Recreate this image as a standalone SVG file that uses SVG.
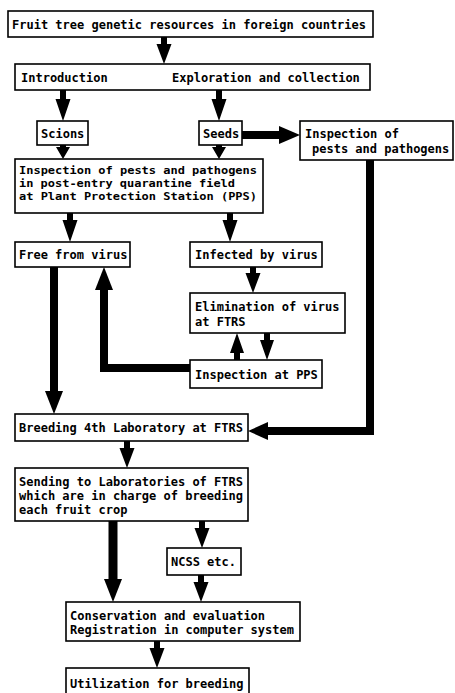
<svg xmlns="http://www.w3.org/2000/svg" width="455" height="693" viewBox="0 0 455 693">
<style>
.box{fill:#fff;stroke:#000;stroke-width:1.6}
text{font-family:"DejaVu Sans Mono","Liberation Mono",monospace;font-weight:bold;font-size:12px;fill:#000}
.sm{font-size:11px}
.ah{fill:#000;stroke:none}
.thick{fill:none;stroke:#000;stroke-width:8;stroke-linejoin:miter}
</style>
<rect width="455" height="693" fill="#fff"/>
<g id="connectors">
<polygon class="ah" points="161,37 167,37 167,44 171.5,44 164,64 156.5,44 161,44"/>
<polygon class="ah" points="60,90 66,90 66,99 70.5,99 63,121 55.5,99 60,99"/>
<polygon class="ah" points="216,90 222,90 222,99 226.5,99 219,121 211.5,99 216,99"/>
<polygon class="ah" points="60,145 66,145 66,147 70,147 63,159 56,147 60,147"/>
<polygon class="ah" points="216,145 222,145 222,147 226,147 219,159 212,147 216,147"/>
<polygon class="ah" points="67,213 73,213 73,220 77.5,220 70,242 62.5,220 67,220"/>
<polygon class="ah" points="227,213 233,213 233,220 237.5,220 230,242 222.5,220 227,220"/>
<polygon class="ah" points="250,267 256,267 256,273 260.5,273 253,293 245.5,273 250,273"/>
<polygon class="ah" points="234,360 240,360 240,353 244,353 237,333 230,353 234,353"/>
<polygon class="ah" points="264,333 270,333 270,340 274,340 267,360 260,340 264,340"/>
<polygon class="ah" points="124,441 130,441 130,448 134.5,448 127,468 119.5,448 124,448"/>
<polygon class="ah" points="199,521 205,521 205,528 209.5,528 202,548 194.5,528 199,528"/>
<polygon class="ah" points="198,575 204,575 204,582 208.5,582 201,602 193.5,582 198,582"/>
<polygon class="ah" points="154,641 160,641 160,648 164.5,648 157,668 149.5,648 154,648"/>
<line class="thick" x1="242" y1="135" x2="281" y2="135"/>
<polygon class="ah" points="279,126 300,135 279,144"/>
<polyline class="thick" points="370,160 370,431 266,431"/>
<polygon class="ah" points="268,422 248,431 268,440"/>
<line class="thick" x1="54" y1="267" x2="54" y2="393"/>
<polygon class="ah" points="45,391 54,414 63,391"/>
<polyline class="thick" points="190,368 104,368 104,288"/>
<polygon class="ah" points="95,290 104,267 113,290"/>
<line class="thick" x1="113" y1="521" x2="113" y2="581" style="stroke-width:9"/>
<polygon class="ah" points="104,579 113,602 122,579"/>
</g>
<g id="n-foreign">
<rect class="box" x="8" y="11" width="365" height="26"/>
<text x="12" y="29">Fruit tree genetic resources in foreign countries</text>
</g>
<g id="n-intro">
<rect class="box" x="15" y="64" width="355" height="26"/>
<text x="21" y="82">Introduction</text>
<text x="172" y="82">Exploration and collection</text>
</g>
<g id="n-scions">
<rect class="box" x="37" y="121" width="51" height="24"/>
<text x="41" y="138">Scions</text>
</g>
<g id="n-seeds">
<rect class="box" x="199" y="121" width="43" height="24"/>
<text x="203" y="138">Seeds</text>
</g>
<g id="n-inspect-seeds">
<rect class="box" x="300" y="121" width="153" height="39"/>
<text x="305" y="138">Inspection of</text>
<text x="312" y="153">pests and pathogens</text>
</g>
<g id="n-quarantine">
<rect class="box" x="15" y="159" width="248" height="54"/>
<text class="sm" x="19" y="174" textLength="238" lengthAdjust="spacingAndGlyphs">Inspection of pests and pathogens</text>
<text class="sm" x="19" y="187" textLength="216" lengthAdjust="spacingAndGlyphs">in post-entry quarantine field</text>
<text class="sm" x="19" y="200" textLength="238" lengthAdjust="spacingAndGlyphs">at Plant Protection Station (PPS)</text>
</g>
<g id="n-free">
<rect class="box" x="15" y="242" width="115" height="25"/>
<text x="19" y="259">Free from virus</text>
</g>
<g id="n-infected">
<rect class="box" x="190" y="242" width="132" height="25"/>
<text x="195" y="259">Infected by virus</text>
</g>
<g id="n-elimination">
<rect class="box" x="190" y="293" width="155" height="40"/>
<text x="195" y="311">Elimination of virus</text>
<text x="195" y="326">at FTRS</text>
</g>
<g id="n-pps">
<rect class="box" x="190" y="360" width="132" height="28"/>
<text x="195" y="379">Inspection at PPS</text>
</g>
<g id="n-breeding4">
<rect class="box" x="15" y="414" width="233" height="27"/>
<text x="19" y="432">Breeding 4th Laboratory at FTRS</text>
</g>
<g id="n-sending">
<rect class="box" x="15" y="468" width="233" height="53"/>
<text x="19" y="486">Sending to Laboratories of FTRS</text>
<text x="19" y="500">which are in charge of breeding</text>
<text x="19" y="514">each fruit crop</text>
</g>
<g id="n-ncss">
<rect class="box" x="167" y="548" width="74" height="27"/>
<text x="171" y="566">NCSS etc.</text>
</g>
<g id="n-conservation">
<rect class="box" x="66" y="602" width="234" height="39"/>
<text x="70" y="620">Conservation and evaluation</text>
<text x="70" y="634">Registration in computer system</text>
</g>
<g id="n-utilization">
<rect class="box" x="66" y="668" width="183" height="40"/>
<text x="70" y="688">Utilization for breeding</text>
</g>
</svg>
